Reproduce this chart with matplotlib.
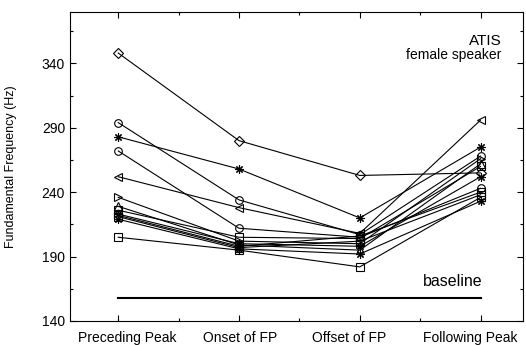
import numpy as np
import matplotlib.pyplot as plt
from matplotlib.ticker import FixedLocator

plt.rcParams['font.family'] = ['Liberation Sans', 'DejaVu Sans']

categories = ['Preceding Peak', 'Onset of FP', 'Offset of FP', 'Following Peak']

# F0 (Hz) per utterance at the four measurement points
series = [
    [348, 280, 253, 255],
    [283, 258, 220, 275],
    [294, 234, 207, 268],
    [272, 212, 205, 243],
    [252, 228, 208, 296],
    [236, 202, 200, 266],
    [229, 199, 195, 262],
    [226, 205, 204, 260],
    [223, 200, 198, 252],
    [221, 197, 202, 238],
    [219, 196, 192, 233],
    [222, 198, 206, 240],
    [205, 195, 182, 236],
]
markers = ['D', (8, 2, 0), 'o', 'o', '<', '>', '^', 's', (8, 2, 0), 's', (8, 2, 0), 's', 's']
baseline = 158

fig = plt.figure(figsize=(5.26, 3.45), dpi=100)
ax = fig.add_axes([0.133, 0.0696, 0.861, 0.896])

x = np.arange(len(categories))
for vals, m in zip(series, markers):
    ms = 5.5 if m in ('o', 's', 'D') else 6
    ax.plot(x, vals, color='black', lw=0.8, marker=m, markersize=ms,
            markerfacecolor='none', markeredgecolor='black', markeredgewidth=0.8)

ax.plot([x[0], x[-1]], [baseline, baseline], color='black', lw=1.5)
ax.text(3.02, 171, 'baseline', ha='right', va='center', fontsize=11.5)
ax.text(3.175, 357.6, 'ATIS', ha='right', va='center', fontsize=11)
ax.text(3.175, 346.7, 'female speaker', ha='right', va='center', fontsize=10)

ax.set_xlim(-0.4, 3.35)
ax.set_ylim(140, 380)
ax.set_xticks(x)
ax.set_xticklabels([])
# category labels in the original sit a bit off their ticks
shifts = [0.075, 0.01, -0.09, -0.085]
for xi, lab, dx in zip(x, categories, shifts):
    ax.text(xi + dx, -0.055, lab, transform=ax.get_xaxis_transform(),
            ha='center', va='center', fontsize=10)
ax.xaxis.set_minor_locator(FixedLocator([0.5, 1.5, 2.5]))
ax.set_yticks([140, 190, 240, 290, 340])
ax.yaxis.set_minor_locator(FixedLocator([165, 215, 265, 315, 365]))
ax.tick_params(axis='both', which='both', direction='in', top=True, right=True, labelsize=10)
ax.tick_params(which='major', length=4, width=0.8)
ax.tick_params(which='minor', length=2.5, width=0.8)
ax.set_ylabel('Fundamental Frequency (Hz)', fontsize=9)
ax.yaxis.set_label_coords(-0.118, 0.5)
for s in ax.spines.values():
    s.set_linewidth(0.8)

fig.savefig('out.png', dpi=100)
